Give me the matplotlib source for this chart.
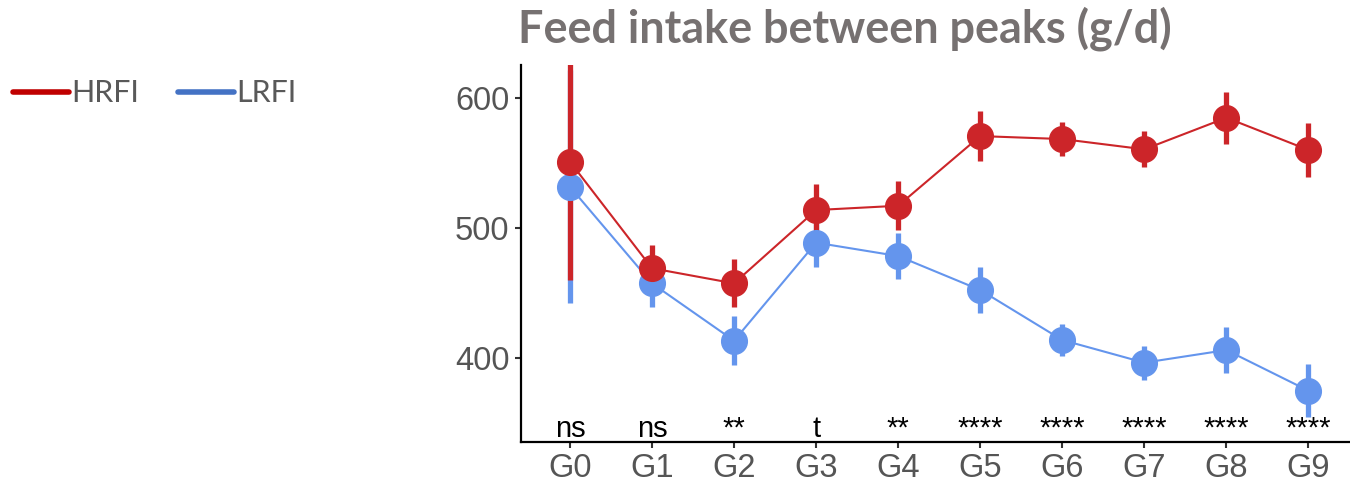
import matplotlib
matplotlib.use("Agg")
import matplotlib.pyplot as plt
from matplotlib.lines import Line2D
import numpy as np

# values
groups = ["G0", "G1", "G2", "G3", "G4", "G5", "G6", "G7", "G8", "G9"]
hrfi = [550.8, 468.8, 457.2, 513.6, 516.9, 570.5, 568.2, 560.3, 584.6, 559.8]
hrfi_se = [91.0, 18.0, 18.5, 20.0, 19.0, 19.5, 13.0, 13.8, 20.0, 20.7]
lrfi = [531.5, 457.2, 413.1, 488.5, 478.2, 452.1, 413.6, 396.2, 405.9, 374.6]
lrfi_se = [89.7, 18.0, 19.0, 19.0, 18.0, 17.7, 12.3, 13.0, 18.0, 20.5]
signif = ["ns", "ns", "**", "t", "**", "****", "****", "****", "****", "****"]
yticks = [400, 500, 600]

red = "#CC2529"
blue = "#6495ED"

fig = plt.figure(figsize=(13.5, 4.83), dpi=100)
ax = fig.add_axes([0.3857, 0.0855, 0.62, 0.78])

x = np.arange(len(groups))

ax.errorbar(x, lrfi, yerr=lrfi_se, fmt="none", ecolor=blue, elinewidth=3.8, capsize=0, zorder=2)
ax.errorbar(x, hrfi, yerr=hrfi_se, fmt="none", ecolor=red, elinewidth=3.8, capsize=0, zorder=2)
ax.plot(x, lrfi, "-o", color=blue, lw=1.5, ms=18.5, zorder=3)
ax.plot(x, hrfi, "-o", color=red, lw=1.5, ms=18.5, zorder=4)

for xi, s in zip(x, signif):
    ax.text(xi, 339, s, ha="center", va="baseline", fontsize=21,
            family="Liberation Sans", color="black", zorder=5)

ax.set_xlim(-0.6, 9.6)
ax.set_ylim(335.4, 625.2)
ax.set_xticks(x)
ax.set_xticklabels(groups)
ax.set_yticks(yticks)

for side in ["top", "right"]:
    ax.spines[side].set_visible(False)
for side in ["left", "bottom"]:
    ax.spines[side].set_linewidth(1.6)
    ax.spines[side].set_color("black")

ax.tick_params(axis="both", length=4, width=1.5, color="#333333",
               labelsize=23.5, labelcolor="#555555", pad=4)
for lab in ax.get_xticklabels() + ax.get_yticklabels():
    lab.set_family("Liberation Sans")

fig.text(0.384, 0.911, "Feed intake between peaks (g/d)", fontsize=32.4,
         fontweight="bold", family="Lato", color="#767171", va="baseline")

handles = [Line2D([], [], color="#C00000", lw=4, solid_capstyle="round"),
           Line2D([], [], color="#4472C4", lw=4, solid_capstyle="round")]
fig.legend(handles, ["HRFI", "LRFI"], loc="center left", bbox_to_anchor=(0.0025, 0.807),
           ncol=2, frameon=False, handlelength=1.85, handletextpad=0.08,
           columnspacing=1.25, prop={"family": "Lato", "size": 22},
           labelcolor="#595959", borderaxespad=0, borderpad=0.3)

fig.savefig("out.png", dpi=100)
